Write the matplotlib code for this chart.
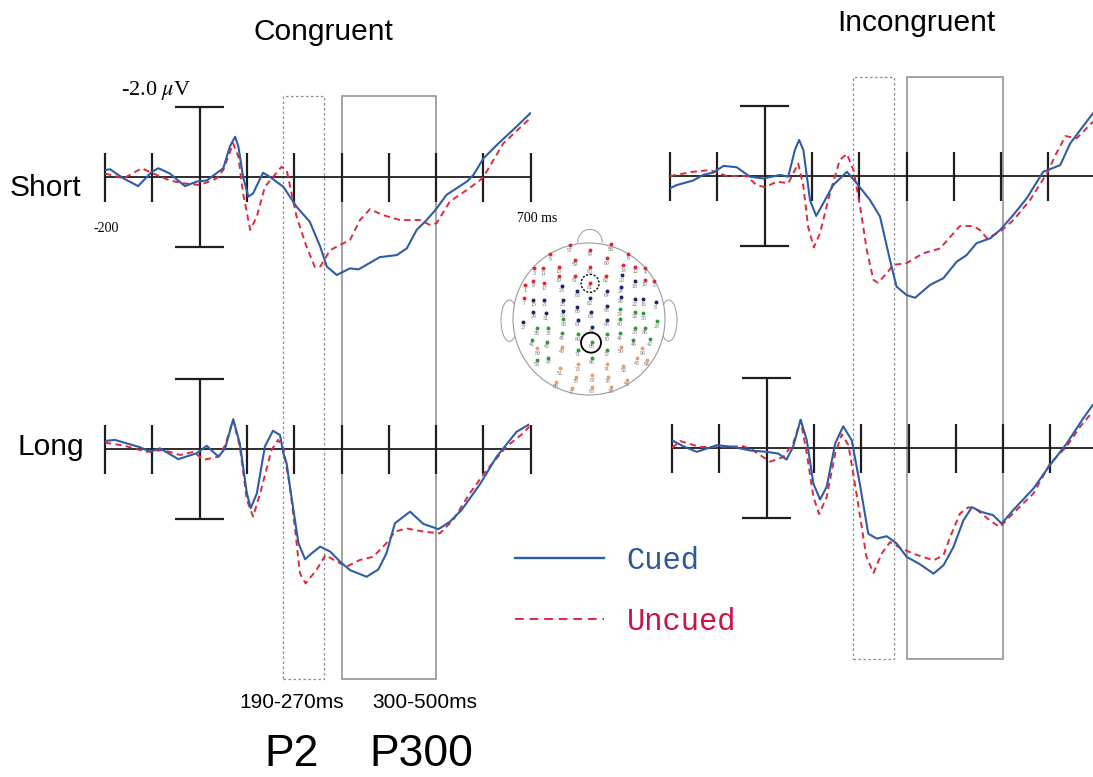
import matplotlib.pyplot as plt
from matplotlib.lines import Line2D
from matplotlib.patches import Rectangle, Circle, Ellipse, Arc

plt.rcParams['font.family'] = ['Liberation Sans', 'DejaVu Sans']
plt.rcParams['mathtext.fontset'] = 'stix'

# ---- ERP data (time in ms, amplitude in uV, positive plotted downwards) ----
tick_ms = [-200, -100, 100, 200, 300, 400, 500, 600, 700]
SCALE_UV = 2.0
p2_window = {'congruent': (176, 263), 'incongruent': (186, 273)}
p300_window = {'congruent': (300, 500), 'incongruent': (300, 503)}

short_cong_cued_t = [-200, -189, -161, -130, -101, -87, -63, -31, -6, 15, 50, 64, 75, 82, 92, 103, 113, 134, 149,
                     177, 205, 233, 255, 269, 290, 318, 336, 381, 417, 438, 459, 480, 501, 522, 565, 579, 600,
                     628, 670, 699]
short_cong_cued_v = [-0.2, -0.22, 0.04, 0.26, -0.15, -0.25, -0.1, 0.26, 0.13, 0.1, -0.25, -0.87, -1.15, -0.87, 0.0,
                     0.56, 0.47, -0.12, 0.0, 0.28, 0.85, 1.28, 1.99, 2.56, 2.8, 2.61, 2.64, 2.29, 2.23, 2.04, 1.51,
                     1.23, 0.9, 0.51, 0.13, -0.06, -0.53, -0.91, -1.44, -1.82]
short_cong_uncued_t = [-200, -161, -122, -98, -63, -34, 1, 36, 50, 71, 82, 92, 107, 121, 138, 173, 184, 205, 226,
                       244, 255, 276, 297, 318, 339, 360, 388, 424, 466, 487, 501, 529, 565, 593, 600, 642, 699]
short_cong_uncued_v = [-0.1, 0.04, -0.25, -0.1, 0.1, 0.18, 0.23, 0.04, -0.2, -0.96, -0.58, 0.47, 1.51, 1.13, 0.28,
                       -0.29, -0.2, 1.13, 1.99, 2.58, 2.56, 2.09, 1.94, 1.8, 1.23, 0.92, 1.09, 1.23, 1.23, 1.37,
                       1.32, 0.7, 0.37, 0.09, 0.0, -0.96, -1.68]

short_incong_cued_t = [-200, -186, -151, -130, -108, -87, -59, -31, -3, 33, 50, 64, 73, 82, 96, 109, 124, 145,
                       174, 195, 223, 244, 265, 279, 300, 318, 350, 378, 406, 427, 448, 477, 498, 526, 554, 589,
                       625, 646, 694]
short_incong_cued_v = [0.35, 0.26, 0.13, -0.03, -0.1, -0.29, -0.25, 0.02, 0.07, -0.03, 0.02, -0.74, -1.03, -0.74,
                       0.69, 1.14, 0.78, 0.26, -0.12, 0.21, 0.69, 1.16, 2.4, 3.16, 3.4, 3.48, 3.11, 2.92, 2.45,
                       2.26, 1.92, 1.78, 1.54, 1.11, 0.64, -0.12, -0.31, -0.93, -1.79]
short_incong_uncued_t = [-200, -151, -115, -80, -38, -17, 1, 26, 50, 71, 82, 92, 104, 117, 138, 159, 174, 188,
                         202, 216, 230, 240, 258, 272, 300, 335, 371, 399, 413, 441, 455, 470, 498, 526, 561,
                         598, 615, 636, 660, 694]
short_incong_uncued_v = [0.0, -0.12, -0.17, 0.0, 0.0, 0.26, 0.32, 0.16, 0.21, -0.36, 0.3, 1.45, 2.04, 1.64, 0.5,
                         -0.46, -0.63, -0.17, 0.88, 2.11, 2.97, 3.05, 2.78, 2.54, 2.49, 2.21, 2.07, 1.64, 1.43,
                         1.43, 1.54, 1.78, 1.59, 1.26, 0.69, -0.1, -0.6, -1.14, -1.08, -1.55]

long_cong_cued_t = [-200, -179, -126, -105, -84, -45, -6, 15, 40, 54, 71, 85, 100, 108, 121, 138, 155, 170, 177,
                    184, 191, 209, 223, 237, 255, 276, 297, 318, 353, 378, 395, 413, 445, 473, 505, 529, 554, 593,
                    628, 670, 695]
long_cong_cued_v = [-0.23, -0.26, -0.05, 0.08, -0.02, 0.29, 0.12, -0.09, 0.22, -0.02, -0.85, -0.16, 1.27, 1.69,
                    1.27, -0.07, -0.52, -0.4, 0.12, 0.41, 1.08, 2.69, 3.15, 2.98, 2.79, 2.93, 3.22, 3.46, 3.65,
                    3.44, 2.98, 2.12, 1.79, 2.14, 2.29, 2.08, 1.74, 1.0, 0.22, -0.49, -0.69]
long_cong_uncued_t = [-200, -161, -112, -77, -41, -13, 8, 40, 54, 71, 85, 100, 113, 128, 152, 166, 177, 191, 202,
                      212, 224, 247, 266, 290, 311, 339, 367, 395, 413, 438, 473, 508, 536, 571, 607, 649, 684, 697]
long_cong_uncued_v = [-0.18, -0.1, 0.08, 0.03, 0.17, 0.08, 0.31, 0.22, -0.11, -0.83, -0.07, 1.46, 1.93, 1.27,
                      0.03, -0.26, -0.02, 1.08, 2.31, 3.55, 3.84, 3.46, 3.03, 3.22, 3.36, 3.17, 3.08, 2.69, 2.36,
                      2.27, 2.36, 2.41, 2.03, 1.27, 0.6, -0.07, -0.45, -0.64]

long_incong_cued_t = [-200, -176, -148, -105, -70, -35, 0, 25, 42, 56, 72, 85, 99, 113, 127, 145, 162, 180, 197,
                      215, 233, 254, 275, 296, 324, 353, 374, 395, 416, 434, 455, 479, 497, 521, 564, 599, 634,
                      669, 689]
long_incong_cued_v = [-0.22, -0.05, 0.11, -0.08, -0.03, 0.07, 0.11, 0.16, 0.33, -0.03, -0.81, -0.22, 1.02, 1.47,
                      1.11, -0.13, -0.62, -0.22, 1.02, 2.45, 2.59, 2.52, 2.73, 3.11, 3.32, 3.59, 3.35, 2.83, 2.07,
                      1.69, 1.83, 1.92, 2.16, 1.78, 1.16, 0.49, -0.12, -0.84, -1.22]
long_incong_uncued_t = [-200, -183, -141, -99, -49, -28, 7, 35, 56, 72, 85, 99, 111, 127, 145, 159, 173, 190, 211,
                        226, 243, 261, 282, 310, 353, 374, 388, 409, 427, 444, 472, 493, 521, 564, 599, 634, 663,
                        689]
long_incong_uncued_v = [0.0, -0.2, -0.03, -0.03, -0.05, 0.07, 0.39, 0.26, -0.13, -0.79, 0.16, 1.4, 1.89, 1.4,
                        0.16, -0.39, -0.08, 1.3, 3.11, 3.57, 3.02, 2.69, 2.85, 3.02, 3.21, 3.06, 2.54, 1.87, 1.69,
                        1.76, 2.07, 2.26, 1.87, 1.3, 0.45, -0.04, -0.61, -1.03]

# ---- electrode map (head image coordinates) ----
red_names = ['57', '79', '58', '5', '59', '60', '6', '3', '11', '13', '80', '14', '12', '4', '19', '61', '81',
             '62', '1', '9', '17', '10', '2', '7']
red_x = [240, 300, 362, 180, 255, 350, 415, 132, 160, 207, 300, 400, 435, 465, 207, 255, 300, 348, 105, 130, 163,
         465, 493, 103]
red_y = [135, 150, 133, 163, 180, 175, 162, 205, 205, 200, 200, 195, 200, 203, 228, 228, 248, 228, 255, 242, 250,
         240, 242, 295]
blue_names = ['20', '18', '23', '24', '63', '64', '82', '15', '21', '25', '26', '22', '16', '8', '65', '66', '29',
              '31', '33', '83', '67', '68', '27', '84']
blue_x = [395, 435, 215, 392, 262, 350, 300, 130, 163, 218, 392, 435, 460, 497, 262, 350, 130, 168, 218, 303, 263,
          350, 100, 305]
blue_y = [225, 243, 258, 260, 272, 272, 295, 300, 300, 300, 290, 298, 298, 307, 320, 318, 335, 340, 332, 336, 360,
          360, 367, 380]
green_names = ['34', '32', '30', '39', '40', '28', '35', '37', '45', '69', '70', '44', '38', '36', '85', '41', '43',
               '71', '72', '46', '42', '47', '53', '86']
green_x = [390, 435, 460, 220, 390, 500, 140, 175, 217, 263, 350, 390, 435, 465, 305, 125, 172, 263, 350, 430, 480,
           175, 140, 305]
green_y = [328, 335, 340, 357, 357, 363, 385, 385, 400, 403, 403, 400, 383, 383, 425, 420, 425, 450, 450, 420, 417,
           473, 480, 473]
orange_names = ['89', '49', '50', '90', '48', '54', '73', '74', '51', '52', '75', '87', '76', '55', '56', '77',
                '88', '78']
orange_x = [142, 217, 393, 457, 440, 470, 263, 350, 210, 400, 257, 307, 353, 197, 410, 245, 305, 363]
orange_y = [445, 440, 440, 445, 475, 480, 493, 493, 505, 497, 530, 525, 530, 545, 540, 563, 560, 560]

W, H = 1093, 777
PX_PER_MS = 0.473
PX_PER_UV = 35.0
BLUE = '#2f5ca8'
RED = '#e0293f'
INK = '#1e1e1e'

fig = plt.figure(figsize=(W / 100, H / 100), dpi=100)


def px_axes(left, top, width, height):
    return fig.add_axes([left / W, 1 - (top + height) / H, width / W, height / H])


def box_column(x0, top, bottom, p2, p300):
    ax = px_axes(x0, top, 900 * PX_PER_MS, bottom - top)
    ax.set_xlim(-200, 700)
    ax.set_ylim(0, 1)
    ax.axis('off')
    ax.add_patch(Rectangle((p2[0], 0), p2[1] - p2[0], 1, fill=False, ec='#8c8c8c', lw=0.9,
                           ls=(0, (2, 2)), clip_on=False))
    ax.add_patch(Rectangle((p300[0], 0), p300[1] - p300[0], 1, fill=False, ec='#8c8c8c', lw=1.1,
                           clip_on=False))


def erp_panel(x0, y0, cued_t, cued_v, uncued_t, uncued_v):
    ax = px_axes(x0, y0 - 3 * PX_PER_UV, 900 * PX_PER_MS, 8 * PX_PER_UV)
    ax.set_xlim(-200, 700)
    ax.set_ylim(5, -3)
    ax.axis('off')
    ax.axhline(0, color=INK, lw=1.3)
    ax.vlines(tick_ms, -0.7, 0.7, color=INK, lw=1.6, clip_on=False)
    ax.vlines(0, -SCALE_UV, SCALE_UV, color=INK, lw=1.6)
    ax.hlines([-SCALE_UV, SCALE_UV], -52, 52, color=INK, lw=1.6)
    ax.plot(uncued_t, uncued_v, color=RED, lw=1.4, dashes=(3.2, 2.2))
    ax.plot(cued_t, cued_v, color=BLUE, lw=1.5, solid_joinstyle='round')
    return ax


# analysis windows behind the traces
box_column(105, 96, 679, p2_window['congruent'], p300_window['congruent'])
box_column(670, 77, 659, p2_window['incongruent'], p300_window['incongruent'])

erp_panel(105, 177, short_cong_cued_t, short_cong_cued_v, short_cong_uncued_t, short_cong_uncued_v)
erp_panel(670, 176, short_incong_cued_t, short_incong_cued_v, short_incong_uncued_t, short_incong_uncued_v)
erp_panel(105, 449, long_cong_cued_t, long_cong_cued_v, long_cong_uncued_t, long_cong_uncued_v)
erp_panel(672, 448, long_incong_cued_t, long_incong_cued_v, long_incong_uncued_t, long_incong_uncued_v)

# head map inset (1 px = 3 head-image units, head centre at 589, 319 px)
hx = px_axes(489, 219, 200, 200)
hx.set_xlim(-3, 597)
hx.set_ylim(657, 57)
hx.set_aspect('equal')
hx.axis('off')
for cx in (58, 536):
    hx.add_patch(Ellipse((cx, 362), 50, 124, fc='white', ec='#9a9a9a', lw=0.7, zorder=1))
hx.add_patch(Arc((300, 128), 74, 80, theta1=180, theta2=360, ec='#9a9a9a', lw=0.7, zorder=1))
hx.add_patch(Circle((297, 357), 228, fc='white', ec='#9a9a9a', lw=0.8, zorder=2))
groups = [(red_names, red_x, red_y, '#e3262d'),
          (blue_names, blue_x, blue_y, '#1b2470'),
          (green_names, green_x, green_y, '#2f9a3b'),
          (orange_names, orange_x, orange_y, '#e3a070')]
for names, xs, ys, col in groups:
    hx.scatter(xs, ys, s=8, color=col, zorder=3, lw=0)
    for n, x, y in zip(names, xs, ys):
        hx.text(x, y + 15, n, fontsize=3.8, color='#7a7a7a', ha='center', va='center', zorder=3)
hx.add_patch(Circle((300, 250), 27, fill=False, ec='black', lw=1.0, ls=(0, (1.5, 1.2)), zorder=4))
hx.add_patch(Circle((303, 428), 30, fill=False, ec='black', lw=1.3, zorder=4))


def ftext(x, y, s, **kw):
    fig.text(x / W, 1 - y / H, s, **kw)


ftext(323, 40, 'Congruent', fontsize=21.5, ha='center', va='baseline')
ftext(916, 31, 'Incongruent', fontsize=21.5, ha='center', va='baseline')
ftext(10, 196, 'Short', fontsize=21.5, ha='left', va='baseline')
ftext(17, 455, 'Long', fontsize=21.5, ha='left', va='baseline')
ftext(121, 95, r'-2.0 $\mu$V', fontsize=16, family='Liberation Serif', ha='left', va='baseline')
ftext(93, 229, '-200', fontsize=10, family='Liberation Serif', ha='left', va='center')
ftext(517, 219, '700 ms', fontsize=10, family='Liberation Serif', ha='left', va='center')
ftext(292, 702, '190-270ms', fontsize=15, ha='center', va='center')
ftext(425, 702, '300-500ms', fontsize=15, ha='center', va='center')
ftext(292, 755, 'P2', fontsize=32, ha='center', va='center')
ftext(421, 755, 'P300', fontsize=32, ha='center', va='center')

handles = [Line2D([], [], color=BLUE, lw=1.7),
           Line2D([], [], color=RED, lw=1.4, dashes=(4.5, 3.0))]
fig.legend(handles, ['Cued', 'Uncued'], loc='upper left', bbox_to_anchor=(515 / W, 1 - 546 / H),
           frameon=False, prop={'family': 'Liberation Mono', 'size': 22}, handlelength=2.9,
           handletextpad=0.75, labelspacing=1.02, borderpad=0, borderaxespad=0,
           labelcolor=['#2c56a0', '#cc1444'])

fig.savefig('out.png', dpi=100)
